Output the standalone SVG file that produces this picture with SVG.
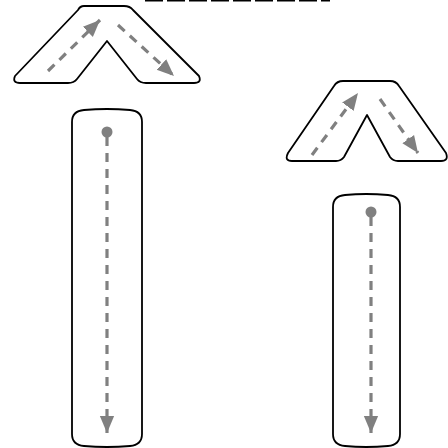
<svg xmlns="http://www.w3.org/2000/svg" width="448" height="448" viewBox="0 0 448 448">
<defs>
<style>
.shape{fill:#fff;stroke:#000;stroke-width:1.8;stroke-linejoin:round}
.flow{fill:none;stroke:#808080;stroke-width:3.2;stroke-dasharray:9 7}
.head{fill:#808080}
</style>
<marker id="ah" viewBox="0 0 10 10" refX="10" refY="5" markerWidth="17" markerHeight="17" markerUnits="userSpaceOnUse" orient="auto">
<path d="M0,0.8 L10,5 L0,9.2 Z" class="head"/>
</marker>
</defs>
<rect width="448" height="448" fill="#fff"/>
<line x1="145" y1="0.5" x2="330" y2="0.5" stroke="#000" stroke-width="2" stroke-dasharray="18 4"/>
<g id="chevron-left">
<path class="shape" d="M84,6 L124,6 Q130,6 133,10 L199,76 Q202,83 194,83 L146,83 Q140,83 137,79 L107,41 L77,79 Q74,83 68,83 L20,83 Q12,83 15,76 L78,10 Q80,6 84,6 Z"/>
</g>
<g id="chevron-right">
<path class="shape" d="M343,81 L390,81 Q396,81 399,86 L446,153 Q449,161 441,161 L398,161 Q393,161 390,157 L367,115 L344,157 Q341,161 336,161 L292,161 Q284,161 288,153 L334,86 Q337,81 343,81 Z"/>
</g>
<g id="capsule-left">
<path class="shape" d="M72,122 Q72,111 84,110 Q107,108 130,110 Q142,111 142,122 L142,434 Q142,445 130,446 Q107,448 84,446 Q72,445 72,434 Z"/>
</g>
<g id="capsule-right">
<path class="shape" d="M333,207 Q333,196 345,195 Q366,193 388,195 Q400,196 400,207 L400,434 Q400,445 388,446 Q366,448 345,446 Q333,445 333,434 Z"/>
</g>
<g id="connectors">
<line class="flow" x1="48" y1="71" x2="100" y2="20" marker-end="url(#ah)"/>
<line class="flow" x1="118" y1="25" x2="174" y2="76" marker-end="url(#ah)"/>
<line class="flow" x1="312" y1="155" x2="358" y2="93" marker-end="url(#ah)"/>
<line class="flow" x1="380" y1="99" x2="418" y2="153" marker-end="url(#ah)"/>
<circle class="head" cx="107" cy="132" r="5.5"/>
<line class="flow" x1="107" y1="137" x2="107" y2="433" marker-end="url(#ah)"/>
<circle class="head" cx="371" cy="212" r="5.5"/>
<line class="flow" x1="371" y1="217" x2="371" y2="433" marker-end="url(#ah)"/>
</g>
</svg>
